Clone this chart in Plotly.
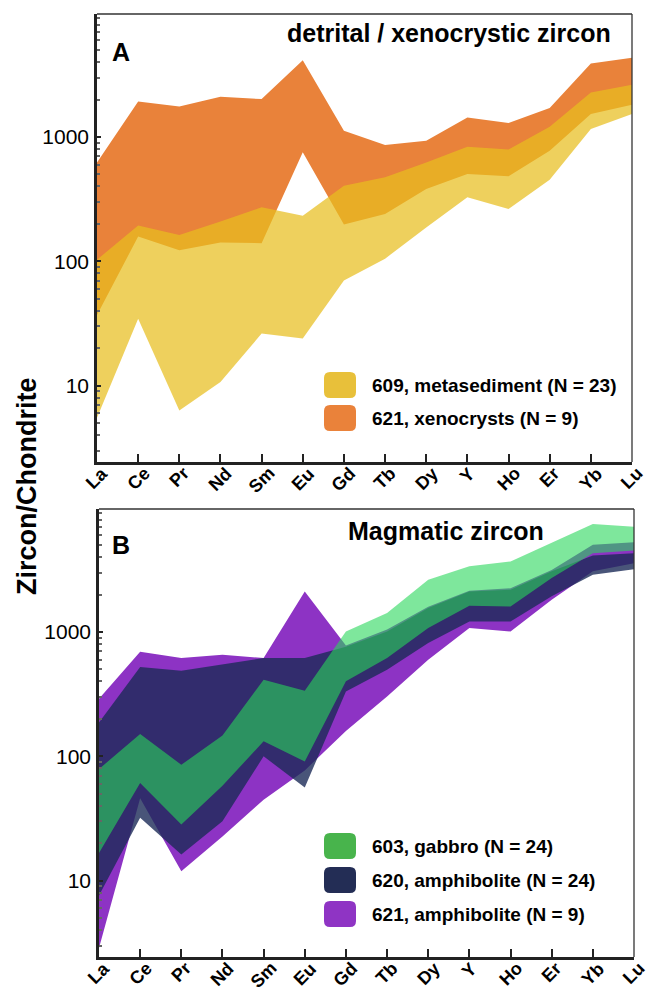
import plotly.graph_objects as go

# ---------------- data ----------------
elements = ["La", "Ce", "Pr", "Nd", "Sm", "Eu", "Gd", "Tb", "Dy", "Y", "Ho", "Er", "Yb", "Lu"]

# Panel A: detrital / xenocrystic zircon (envelopes, chondrite-normalised)
meta609_upper = [103, 194, 163, 209, 272, 233, 406, 474, 625, 836, 795, 1210, 2280, 2630]
meta609_lower = [5.5, 34.5, 6.3, 10.7, 26.2, 23.9, 70, 105, 187, 327, 264, 454, 1160, 1530]
xeno621_upper = [625, 1930, 1760, 2110, 2020, 4150, 1125, 862, 934, 1436, 1295, 1710, 3900, 4350]
xeno621_lower = [37, 158, 123, 142, 140, 753, 198, 240, 382, 505, 483, 776, 1530, 1820]

# Panel B: magmatic zircon
gab603_upper = [79, 151, 85.5, 147, 413, 337, 1010, 1420, 2640, 3380, 3700, 5200, 7400, 7030]
gab603_lower = [16.7, 61, 28.2, 58, 132, 91, 401, 617, 1077, 1630, 1606, 2720, 4300, 4520]
amp620_upper = [187, 522, 489, 546, 618, 618, 760, 1010, 1560, 2120, 2190, 3080, 4130, 4300]
amp620_lower = [7.6, 32, 16.2, 30, 100, 56, 333, 498, 815, 1218, 1218, 1940, 2890, 3200]
amp621_upper = [290, 695, 618, 656, 618, 2120, 780, 1050, 1600, 2150, 2250, 3150, 5040, 5270]
amp621_lower = [2.87, 46, 11.9, 22.6, 44.8, 77, 160, 303, 598, 1077, 1010, 1820, 3080, 3570]

labels_A = ["609, metasediment (N = 23)", "621, xenocrysts (N = 9)"]
labels_B = ["603, gabbro (N = 24)", "620, amphibolite (N = 24)", "621, amphibolite (N = 9)"]
ytick_vals = [10, 100, 1000]

# ---------------- styling ----------------
W, H = 646, 988
FONT = "Liberation Sans Narrow, Arial Narrow, Liberation Sans, Arial, sans-serif"

def px(x):
    return x / W

def py(y):
    return 1 - y / H

xi = list(range(len(elements)))

def band(upper, lower, color, name, xa, ya):
    return go.Scatter(
        x=xi + xi[::-1], y=upper + lower[::-1],
        fill="toself", fillcolor=color, mode="lines", line=dict(width=0),
        name=name, xaxis=xa, yaxis=ya, hoverinfo="name", showlegend=False,
    )

fig = go.Figure()
# Panel A
fig.add_trace(band(xeno621_upper, xeno621_lower, "rgb(233,130,58)", labels_A[1], "x", "y"))
fig.add_trace(band(meta609_upper, meta609_lower, "rgba(232,190,30,0.72)", labels_A[0], "x", "y"))
# Panel B
fig.add_trace(band(amp621_upper, amp621_lower, "rgb(141,51,196)", labels_B[2], "x2", "y2"))
fig.add_trace(band(amp620_upper, amp620_lower, "rgba(28,42,88,0.80)", labels_B[1], "x2", "y2"))
fig.add_trace(band(gab603_upper, gab603_lower, "rgba(40,215,90,0.60)", labels_B[0], "x2", "y2"))

minor_vals = [m * 10 ** e for e in range(0, 4) for m in range(2, 10)]

def xaxis(dom):
    return dict(
        domain=dom, range=[0, 13], tickvals=xi, ticktext=elements, showticklabels=False,
        ticks="inside", ticklen=8, tickwidth=2, tickcolor="#222",
        showline=True, linewidth=2.5, linecolor="#222", mirror=False,
        showgrid=False, zeroline=False, automargin=False,
    )

def yaxis(dom):
    return dict(
        domain=dom, type="log", range=[0.385, 3.99],
        tickvals=ytick_vals, ticktext=[str(v) for v in ytick_vals],
        ticks="inside", ticklen=4, tickwidth=2, tickcolor="#222",
        minor=dict(tickvals=minor_vals, ticks="inside", ticklen=3, tickwidth=1.5,
                   tickcolor="#666", showgrid=False),
        showline=True, linewidth=2.5, linecolor="#222", mirror=False,
        showgrid=False, zeroline=False, ticklabelstandoff=1, automargin=False,
        tickfont=dict(family=FONT, size=21, color="black"),
    )

fig.update_layout(
    width=W, height=H, margin=dict(l=0, r=0, t=0, b=0),
    paper_bgcolor="white", plot_bgcolor="white", showlegend=False,
    xaxis=xaxis([px(97), px(632)]), yaxis=yaxis([py(462), py(14)]),
    xaxis2=xaxis([px(99), px(634)]), yaxis2=yaxis([py(957), py(509)]),
)
fig.layout.xaxis2.anchor = "y2"
fig.layout.yaxis2.anchor = "x2"

shapes = []
for xr, yr in (("x domain", "y domain"), ("x2 domain", "y2 domain")):
    shapes.append(dict(type="line", xref=xr, yref=yr, x0=0, x1=1, y0=1, y1=1,
                       line=dict(color="#333", width=1.3)))
    shapes.append(dict(type="line", xref=xr, yref=yr, x0=1, x1=1, y0=0, y1=1,
                       line=dict(color="#333", width=1.3)))

def rounded(x0, y0, x1, y1, r, color):
    X0, X1, Y0, Y1 = px(x0), px(x1), py(y0), py(y1)
    rx, ry = r / W, r / H
    path = (f"M {X0+rx},{Y0} L {X1-rx},{Y0} Q {X1},{Y0} {X1},{Y0-ry} "
            f"L {X1},{Y1+ry} Q {X1},{Y1} {X1-rx},{Y1} L {X0+rx},{Y1} "
            f"Q {X0},{Y1} {X0},{Y1+ry} L {X0},{Y0-ry} Q {X0},{Y0} {X0+rx},{Y0} Z")
    return dict(type="path", xref="paper", yref="paper", path=path,
                fillcolor=color, line=dict(width=0))

annotations = []
def text(x, y, s, size, bold=True, xanchor="left", angle=0):
    annotations.append(dict(
        x=px(x), y=py(y), xref="paper", yref="paper", text=s, showarrow=False,
        xanchor=xanchor, yanchor="middle", textangle=angle, borderpad=0,
        font=dict(family=FONT, size=size, color="black", weight="bold" if bold else "normal"),
    ))

# rotated element labels under each x axis
for xr, yr in (("x", "y domain"), ("x2", "y2 domain")):
    for i, el in enumerate(elements):
        annotations.append(dict(
            x=i, y=0, xref=xr, yref=yr, text=el, showarrow=False,
            xanchor="center", yanchor="top", textangle=-45, yshift=0, borderpad=0,
            font=dict(family=FONT, size=18, color="black", weight="bold"),
        ))

swA = ["rgb(232,192,58)", "rgb(234,130,58)"]
for i, (lab, c) in enumerate(zip(labels_A, swA)):
    y0 = 372 + i * 33
    shapes.append(rounded(324, y0, 356, y0 + 26, 6, c))
    text(371, y0 + 13, lab, 19)

swB = ["rgb(72,180,76)", "rgb(35,45,85)", "rgb(143,52,196)"]
for i, (lab, c) in enumerate(zip(labels_B, swB)):
    y0 = 833 + i * 34
    shapes.append(rounded(324, y0, 356, y0 + 26, 6, c))
    text(371, y0 + 13, lab, 19)

text(111, 52, "A", 25)
text(612, 33, "detrital / xenocrystic zircon", 25, xanchor="right")
text(111, 545, "B", 25)
text(347, 531, "Magmatic zircon", 25)
text(27, 486, "Zircon/Chondrite", 27, angle=-90, xanchor="center")

fig.update_layout(shapes=shapes, annotations=annotations)
fig.write_html(
    "out.html",
    config={"displayModeBar": False},
    post_script="document.body.style.margin='0';document.body.style.overflow='hidden';",
)
